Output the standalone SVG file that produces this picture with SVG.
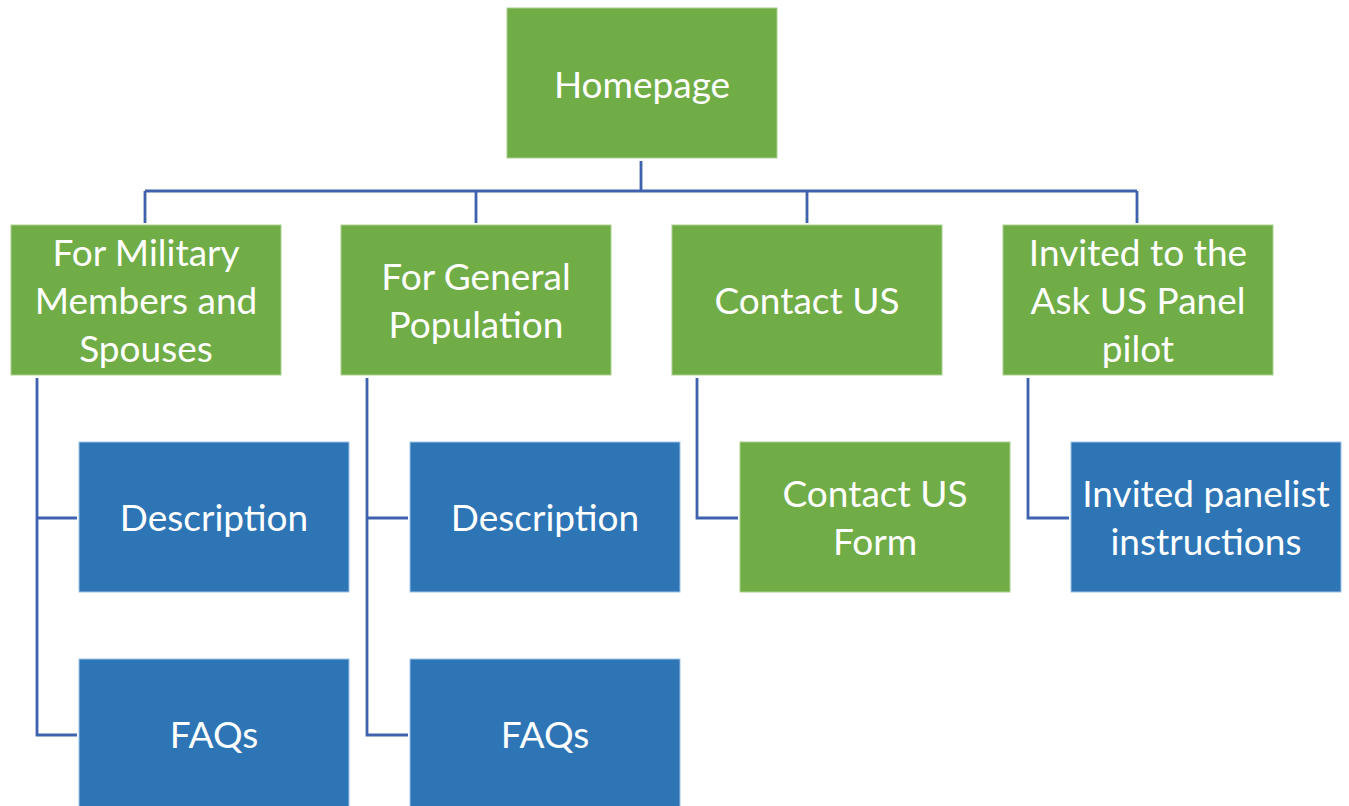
<svg xmlns="http://www.w3.org/2000/svg" width="1349" height="806" viewBox="0 0 1349 806">
<style>
.g{fill:#70AD47;stroke:#A9D08E;stroke-width:1}
.b{fill:#2E75B6;stroke:#9DC3E6;stroke-width:1}
.t{font-family:Lato,"Liberation Sans",sans-serif;font-size:37px;fill:#FFFFFF;text-anchor:middle}
.c{fill:none;stroke:#3F62AE;stroke-width:2.8}
</style>
<rect width="1349" height="806" fill="#FFFFFF"/>
<g id="connectors">
<path class="c" d="M641,161V191M145,191H1137M145,191V223M476,191V223M807,191V223M1137,191V223"/>
<path class="c" d="M37,378V735H77M37,518H77"/>
<path class="c" d="M367,378V735H408M367,518H408"/>
<path class="c" d="M697,378V518H738"/>
<path class="c" d="M1028,378V518H1069"/>
</g>
<g id="homepage"><rect class="g" x="507" y="8" width="270" height="150"/><text class="t" x="642" y="98">Homepage</text></g>
<g id="military"><rect class="g" x="11" y="225" width="270" height="150"/><text class="t" x="146" y="266">For Military</text><text class="t" x="146" y="314">Members and</text><text class="t" x="146" y="362">Spouses</text></g>
<g id="general"><rect class="g" x="341" y="225" width="270" height="150"/><text class="t" x="476" y="290">For General</text><text class="t" x="476" y="338">Population</text></g>
<g id="contact"><rect class="g" x="672" y="225" width="270" height="150"/><text class="t" x="807" y="314">Contact US</text></g>
<g id="invited"><rect class="g" x="1003" y="225" width="270" height="150"/><text class="t" x="1138" y="266">Invited to the</text><text class="t" x="1138" y="314">Ask US Panel</text><text class="t" x="1138" y="362">pilot</text></g>
<g id="desc1"><rect class="b" x="79" y="442" width="270" height="150"/><text class="t" x="214" y="531">Description</text></g>
<g id="faq1"><rect class="b" x="79" y="659" width="270" height="150"/><text class="t" x="214" y="748">FAQs</text></g>
<g id="desc2"><rect class="b" x="410" y="442" width="270" height="150"/><text class="t" x="545" y="531">Description</text></g>
<g id="faq2"><rect class="b" x="410" y="659" width="270" height="150"/><text class="t" x="545" y="748">FAQs</text></g>
<g id="form"><rect class="g" x="740" y="442" width="270" height="150"/><text class="t" x="875" y="507">Contact US</text><text class="t" x="875" y="555">Form</text></g>
<g id="panelist"><rect class="b" x="1071" y="442" width="270" height="150"/><text class="t" x="1206" y="507">Invited panelist</text><text class="t" x="1206" y="555">instructions</text></g>
</svg>
